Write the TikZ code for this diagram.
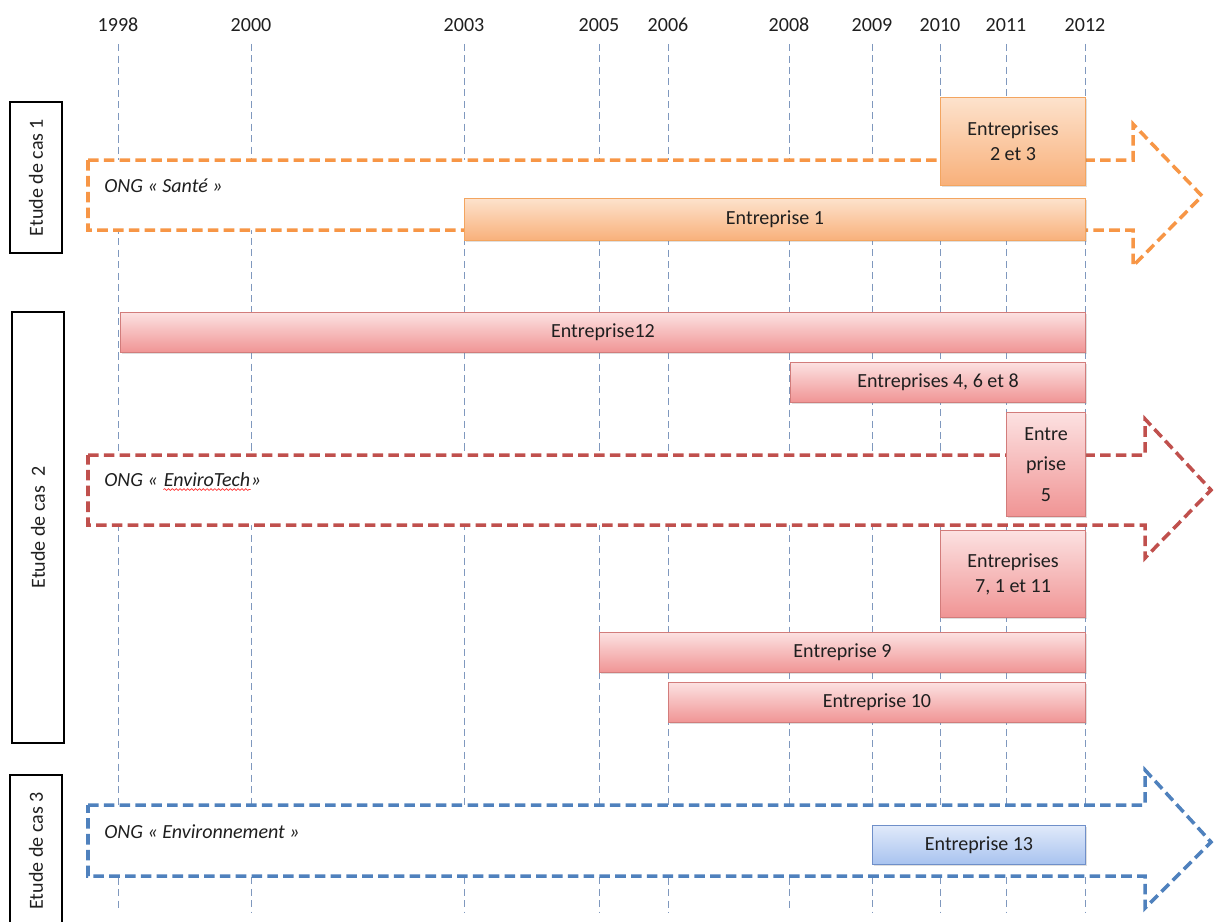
\documentclass[tikz,border=0pt]{standalone}
\usepackage{fontspec}
\setmainfont{Carlito}
\usetikzlibrary{fit,shadows,backgrounds,decorations.pathmorphing}

\definecolor{santeorange}{HTML}{F79646}
\definecolor{envired}{HTML}{C0504D}
\definecolor{envblue}{HTML}{4F81BD}
\definecolor{gridblue}{HTML}{7F98BE}
\definecolor{orangetop}{HTML}{FDE2CC}
\definecolor{orangebot}{HTML}{F8B07A}
\definecolor{orangeline}{HTML}{F3A560}
\definecolor{redtop}{HTML}{FCE1E1}
\definecolor{redbot}{HTML}{F09494}
\definecolor{redline}{HTML}{D27C7B}
\definecolor{bluetop}{HTML}{E0E9FA}
\definecolor{bluebot}{HTML}{A8C3EF}
\definecolor{blueline}{HTML}{6F8FC9}

\begin{document}
\begin{tikzpicture}[
    x=0.02cm, y=-0.02cm,
    every node/.style={font=\fontsize{11.4}{14.2}\selectfont, text=black!88},
    yearline/.style={gridblue, line width=0.5pt, dash pattern=on 4pt off 2.5pt},
    casebox/.style={draw=black, line width=0.6pt, fill=white, inner sep=0pt},
    ngoarrow/.style={fill=white, line width=2pt, dash pattern=on 6pt off 3pt},
    ngotext/.style={font=\fontsize{11.4}{14.2}\selectfont\itshape, inner sep=0pt},
    firm/.style={anchor=north west, inner sep=0pt, align=center, line width=0.6pt,
        drop shadow={opacity=0.25, shadow xshift=0.7pt, shadow yshift=-0.9pt}},
    orangebox/.style={firm, draw=orangeline, top color=orangetop, bottom color=orangebot},
    redbox/.style={firm, draw=redline, top color=redtop, bottom color=redbot},
    bluebox/.style={firm, draw=blueline, top color=bluetop, bottom color=bluebot}
]
\useasboundingbox (0,0) rectangle (1216,921);
\coordinate (bottom) at (0,912);

% years along the top
\foreach \yr/\x in {1998/118,2000/251,2003/464,2005/599,2006/668,2008/789,2009/872,2010/940,2011/1006,2012/1085}
  \node (y\yr) at (\x,25) {\yr};

\begin{pgfonlayer}{background}
  % one dashed line down from each year
  \foreach \yr in {1998,2000,2003,2005,2006,2008,2009,2010,2011,2012}
    \draw[yearline] ([yshift=-0.12cm]y\yr.south) -- (y\yr.south |- bottom);
\end{pgfonlayer}

% case study labels -- left column
\node[casebox, fit={(10,102) (62,253)}] (cas1) {};
\node[rotate=90] (cas1txt) at (cas1) {Etude de cas 1};
\node[casebox, fit={(12,312) (64,743)}] (cas2) {};
\node[rotate=90] (cas2txt) at (cas2) {Etude de cas\ \ 2};
\node[casebox, fit={(10,775) (62,927)}] (cas3) {};
\node[rotate=90] (cas3txt) at (cas3) {Etude de cas 3};

% case 1 -- orange
\draw[ngoarrow, draw=santeorange] (88,160) -- (1133,160) -- (1133,124) -- (1202,196)
  -- (1133,266) -- (1133,230) -- (88,230) -- cycle;
\node[ngotext, anchor=base west] (ngo1) at (104,192) {ONG « Santé »};
\node[orangebox, minimum width=2.9cm, minimum height=1.76cm] (ent23) at (940,97) {Entreprises\\2 et 3};
\node[orangebox, minimum width=12.42cm, minimum height=0.84cm] (ent1) at (464,198) {Entreprise 1};

% case 2 -- red
\draw[ngoarrow, draw=envired] (88,455) -- (1145,455) -- (1145,419) -- (1211,490)
  -- (1145,558) -- (1145,525) -- (88,525) -- cycle;
\node[ngotext, anchor=base west] (ngo2a) at (104,486) {ONG «\kern3pt};
\node[ngotext, anchor=base west] (ngo2b) at (ngo2a.base east) {EnviroTech};
\node[ngotext, anchor=base west] (ngo2c) at (ngo2b.base east) {»};
\draw[red!80, line width=0.4pt, decorate, decoration={snake, amplitude=0.5pt, segment length=2.2pt}]
  ([yshift=-2pt]ngo2b.base west) -- ([yshift=-2pt]ngo2b.base east);
\node[redbox, minimum width=19.3cm, minimum height=0.8cm] (ent12) at (120,312) {Entreprise12};
\node[redbox, minimum width=5.9cm, minimum height=0.8cm] (ent468) at (790,362) {Entreprises 4, 6 et 8};
\node[redbox, minimum width=1.58cm, minimum height=2.08cm] (ent5) at (1006,412) {Entre\\[3pt]prise\\[3pt]5};
\node[redbox, minimum width=2.9cm, minimum height=1.74cm] (ent7111) at (940,530) {Entreprises\\7, 1 et 11};
\node[redbox, minimum width=9.72cm, minimum height=0.8cm] (ent9) at (599,632) {Entreprise 9};
\node[redbox, minimum width=8.34cm, minimum height=0.8cm] (ent10) at (668,682) {Entreprise 10};

% case 3 -- blue
\draw[ngoarrow, draw=envblue] (88,805) -- (1145,805) -- (1145,770) -- (1211,842)
  -- (1145,908) -- (1145,876) -- (88,876) -- cycle;
\node[ngotext, anchor=base west] (ngo3) at (104,838) {ONG « Environnement »};
\node[bluebox, minimum width=4.26cm, minimum height=0.78cm] (ent13) at (872,825) {Entreprise 13};
\end{tikzpicture}
\end{document}
